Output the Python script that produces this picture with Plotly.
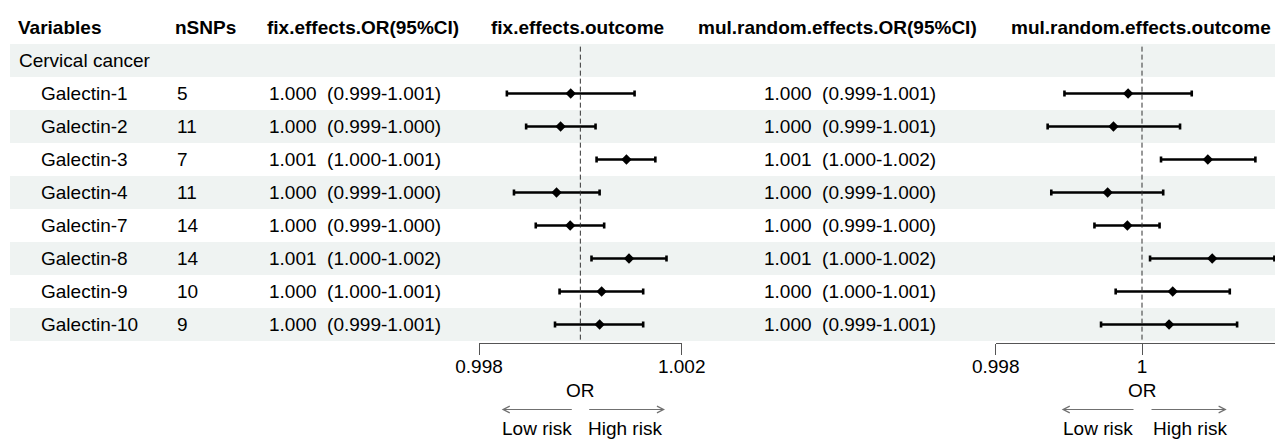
import plotly.graph_objects as go

W, H = 1275, 439
ROW_H = 33.0          # px per table row
ROW0_PX = 60.5        # px centre of first body row
FONT = "Liberation Sans, Arial, Helvetica, sans-serif"
FS = 19
REF_OR = 1.0

# ---------------- data ----------------
headers = ["Variables", "nSNPs", "fix.effects.OR(95%CI)", "fix.effects.outcome",
           "mul.random.effects.OR(95%CI)", "mul.random.effects.outcome"]
group_label = "Cervical cancer"
variables = ["Galectin-1", "Galectin-2", "Galectin-3", "Galectin-4",
             "Galectin-7", "Galectin-8", "Galectin-9", "Galectin-10"]
nsnps = [5, 11, 7, 11, 14, 14, 10, 9]
fix_or_text = ["1.000  (0.999-1.001)", "1.000  (0.999-1.000)", "1.001  (1.000-1.001)",
               "1.000  (0.999-1.000)", "1.000  (0.999-1.000)", "1.001  (1.000-1.002)",
               "1.000  (1.000-1.001)", "1.000  (0.999-1.001)"]
fix_or = [0.99981, 0.99961, 1.00091, 0.99953, 0.99980, 1.00096, 1.00042, 1.00038]
fix_lo = [0.99855, 0.99893, 1.00032, 0.99869, 0.99912, 1.00022, 0.99959, 0.99950]
fix_hi = [1.00107, 1.00030, 1.00148, 1.00038, 1.00047, 1.00170, 1.00124, 1.00124]
rand_or_text = ["1.000  (0.999-1.001)", "1.000  (0.999-1.001)", "1.001  (1.000-1.002)",
                "1.000  (0.999-1.000)", "1.000  (0.999-1.000)", "1.001  (1.000-1.002)",
                "1.000  (1.000-1.001)", "1.000  (0.999-1.001)"]
rand_or = [0.99981, 0.99961, 1.00090, 0.99953, 0.99980, 1.00096, 1.00042, 1.00037]
rand_lo = [0.99894, 0.99871, 1.00026, 0.99876, 0.99935, 1.00011, 0.99964, 0.99944]
rand_hi = [1.00068, 1.00052, 1.00155, 1.00029, 1.00024, 1.00181, 1.00120, 1.00130]
fix_ticks = [0.998, 1.002]
fix_ticktext = ["0.998", "1.002"]
rand_ticks = [0.998, 1.0, 1.002]
rand_ticktext = ["0.998", "1", "1.002"]

rows = list(range(1, len(variables) + 1))
n_rows = len(variables) + 1


def px(x):
    return x / W


def py(y):
    return 1 - y / H


def nb(s):
    return s.replace("  ", "\u00a0\u00a0")


fig = go.Figure()

err_style = dict(type="data", symmetric=False, thickness=2.6, width=3, color="black")
fig.add_trace(go.Scatter(
    x=fix_or, y=rows, xaxis="x", yaxis="y", mode="markers",
    marker=dict(symbol="diamond", size=8, color="black"),
    error_x=dict(array=[h - o for h, o in zip(fix_hi, fix_or)],
                 arrayminus=[o - l for o, l in zip(fix_or, fix_lo)], **err_style),
    showlegend=False, hoverinfo="skip"))
fig.add_trace(go.Scatter(
    x=rand_or, y=rows, xaxis="x2", yaxis="y", mode="markers",
    marker=dict(symbol="diamond", size=8, color="black"),
    error_x=dict(array=[h - o for h, o in zip(rand_hi, rand_or)],
                 arrayminus=[o - l for o, l in zip(rand_or, rand_lo)], **err_style),
    showlegend=False, hoverinfo="skip"))

shapes = []
for r in range(0, n_rows, 2):
    shapes.append(dict(type="rect", xref="paper", yref="y", x0=px(10), x1=1,
                       y0=r - 0.5, y1=r + 0.5, fillcolor="#eff3f2",
                       line=dict(width=0), layer="below"))
for xr in ["x", "x2"]:
    shapes.append(dict(type="line", xref=xr, yref="y", x0=REF_OR, x1=REF_OR,
                       y0=-0.42, y1=n_rows - 0.5,
                       line=dict(color="#333333", width=1, dash="5px,3px")))

ann = []
text_font = dict(family=FONT, size=FS, color="black")
bold_font = dict(family=FONT, size=FS, color="black", weight="bold")
# headers
hdr_x = [18, 175, 267, 577, 698, 1011]
hdr_anchor = ["left", "left", "left", "center", "left", "left"]
for h, x, a in zip(headers, hdr_x, hdr_anchor):
    ann.append(dict(text=h, xref="paper", yref="y", x=px(x - 2 if a == "left" else x), y=-1,
                    xanchor=a, yanchor="middle", showarrow=False, font=bold_font))
ann.append(dict(text=group_label, xref="paper", yref="y", x=px(17), y=0, xanchor="left",
                yanchor="middle", showarrow=False, font=text_font))
for r, v, n, ft, rt in zip(rows, variables, nsnps, fix_or_text, rand_or_text):
    for x, t in [(39, v), (175, str(n)), (267, nb(ft)), (762, nb(rt))]:
        ann.append(dict(text=t, xref="paper", yref="y", x=px(x), y=r, xanchor="left",
                        yanchor="middle", showarrow=False, font=text_font))

# OR titles & risk arrows
for cx, l0, l1, r0, r1, lt, ht in [(580, 501.7, 573.3, 587.7, 665, 536.7, 625),
                                   (1142, 1061.7, 1135, 1150, 1226.7, 1098, 1190)]:
    ann.append(dict(text="OR", xref="paper", yref="paper", x=px(cx), y=py(390),
                    xanchor="center", yanchor="middle", showarrow=False, font=text_font))
    ann.append(dict(text="", xref="paper", yref="paper", x=px(l0), y=py(409.5),
                    axref="pixel", ayref="pixel", ax=l1 - l0, ay=0, showarrow=True,
                    arrowhead=5, arrowsize=1.3, arrowwidth=1, arrowcolor="#707070"))
    ann.append(dict(text="", xref="paper", yref="paper", x=px(r1), y=py(409.5),
                    axref="pixel", ayref="pixel", ax=r0 - r1, ay=0, showarrow=True,
                    arrowhead=5, arrowsize=1.3, arrowwidth=1, arrowcolor="#707070"))
    ann.append(dict(text="Low risk", xref="paper", yref="paper", x=px(lt), y=py(428.5),
                    xanchor="center", yanchor="middle", showarrow=False, font=text_font))
    ann.append(dict(text="High risk", xref="paper", yref="paper", x=px(ht), y=py(428.5),
                    xanchor="center", yanchor="middle", showarrow=False, font=text_font))

axis_common = dict(anchor="free", position=py(342.7), showline=True, linecolor="#555555",
                   linewidth=1, ticks="outside", ticklen=11, tickwidth=1, tickcolor="#555555",
                   showgrid=False, zeroline=False, tickfont=text_font, fixedrange=True,
                   automargin=False, ticklabelstandoff=-5)
fig.update_layout(
    width=W, height=H, autosize=False,
    margin=dict(l=0, r=0, t=0, b=0, pad=0, autoexpand=False),
    paper_bgcolor="white", plot_bgcolor="rgba(0,0,0,0)",
    font=text_font,
    xaxis=dict(domain=[px(479), px(681.7)], range=[0.998, 1.002],
               tickvals=fix_ticks, ticktext=fix_ticktext, **axis_common),
    xaxis2=dict(domain=[px(995.7), 1], range=[0.998, 0.998 + (W - 995.7) / 73.15 * 0.001],
                tickvals=rand_ticks, ticktext=rand_ticktext, **axis_common),
    yaxis=dict(domain=[0, 1], range=[(H - ROW0_PX) / ROW_H, -ROW0_PX / ROW_H],
               visible=False, fixedrange=True, automargin=False),
    shapes=shapes, annotations=ann,
)

fig.write_html("out.html", config={"displayModeBar": False},
               post_script="document.body.style.margin='0';document.body.style.overflow='hidden';")
